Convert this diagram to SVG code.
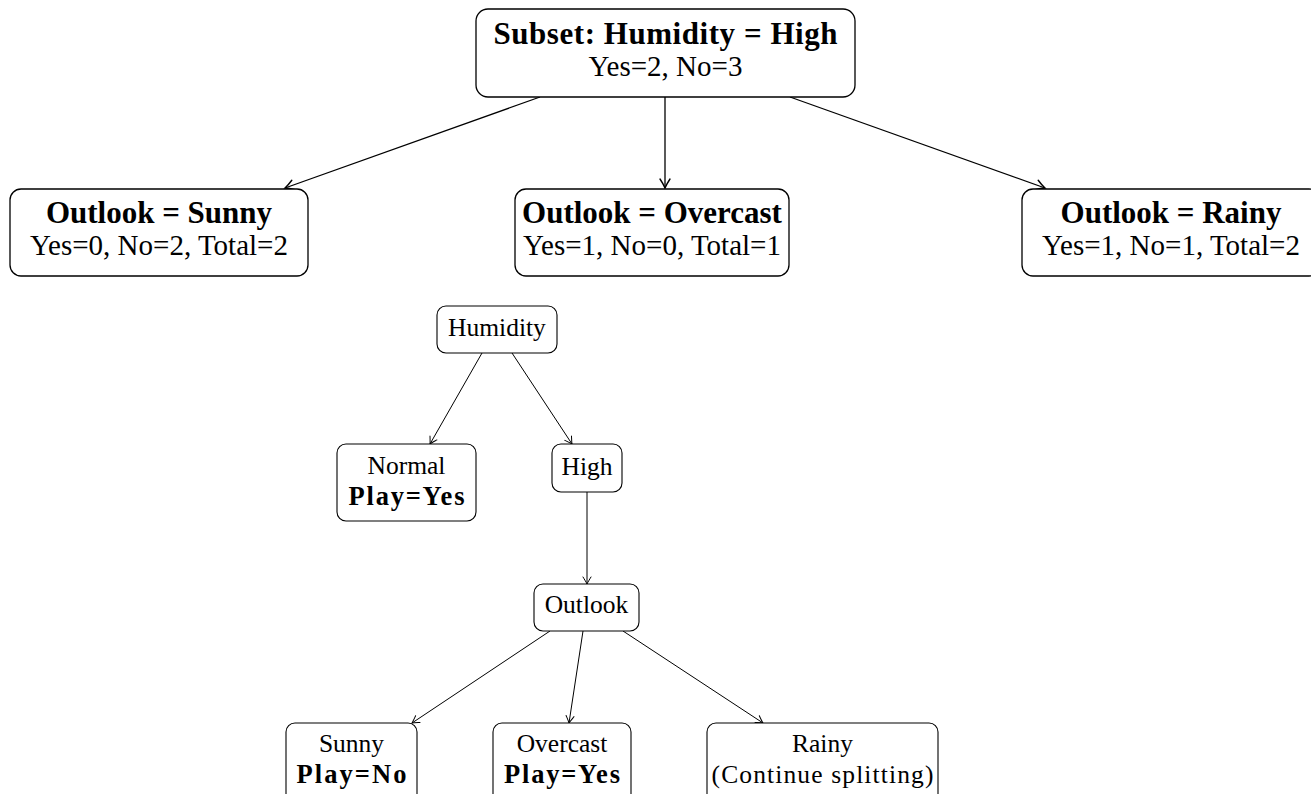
<svg xmlns="http://www.w3.org/2000/svg" width="1311" height="794" viewBox="0 0 1311 794">
<defs>
<style>
.box{fill:#fff;stroke:#000;stroke-width:1.3}
.sbox{fill:#fff;stroke:#000;stroke-width:1.1}
text{font-family:'Liberation Serif',serif;text-anchor:middle;fill:#000}
.big{font-size:29px}
.bigb{font-size:31px;font-weight:bold}
.sm{font-size:25.5px}
.smb{font-size:26.5px;font-weight:bold}
.e1{stroke:#000;stroke-width:1.3;fill:none}
.e2{stroke:#000;stroke-width:1;fill:none}
</style>
<marker id="a1" markerUnits="userSpaceOnUse" viewBox="-12 -7 14 14" markerWidth="14" markerHeight="14" refX="0" refY="0" orient="auto">
<path d="M-9,-5 C-6,-3 -2,-0.8 0,0 C-2,0.8 -6,3 -9,5" fill="none" stroke="#000" stroke-width="1.4" stroke-linecap="round"/>
</marker>
<marker id="a2" markerUnits="userSpaceOnUse" viewBox="-10 -6 12 12" markerWidth="12" markerHeight="12" refX="0" refY="0" orient="auto">
<path d="M-7,-4 C-4.5,-2.5 -1.5,-0.6 0,0 C-1.5,0.6 -4.5,2.5 -7,4" fill="none" stroke="#000" stroke-width="1" stroke-linecap="round"/>
</marker>
</defs>
<rect width="1311" height="794" fill="#fff"/>
<g id="connectors">
<line class="e1" x1="540" y1="97" x2="285" y2="188" marker-end="url(#a1)"/>
<line class="e1" x1="665" y1="97" x2="665" y2="188" marker-end="url(#a1)"/>
<line class="e1" x1="790" y1="97" x2="1045" y2="188" marker-end="url(#a1)"/>
<line class="e2" x1="482" y1="353" x2="430" y2="444" marker-end="url(#a2)"/>
<line class="e2" x1="512" y1="353" x2="572" y2="444" marker-end="url(#a2)"/>
<line class="e2" x1="587" y1="492" x2="587" y2="584" marker-end="url(#a2)"/>
<line class="e2" x1="550" y1="631" x2="412" y2="723" marker-end="url(#a2)"/>
<line class="e2" x1="583" y1="631" x2="569" y2="723" marker-end="url(#a2)"/>
<line class="e2" x1="623" y1="631" x2="763" y2="723" marker-end="url(#a2)"/>
</g>
<g id="root">
<rect class="box" x="476" y="9" width="379" height="88" rx="12"/>
<text class="bigb" x="665.5" y="44" textLength="344" lengthAdjust="spacing">Subset: Humidity = High</text>
<text class="big" x="665.5" y="76">Yes=2, No=3</text>
</g>
<g id="sunny-top">
<rect class="box" x="10" y="189" width="298" height="87" rx="11"/>
<text class="bigb" x="159" y="223">Outlook = Sunny</text>
<text class="big" x="159" y="255">Yes=0, No=2, Total=2</text>
</g>
<g id="overcast-top">
<rect class="box" x="515" y="189" width="274" height="87" rx="11"/>
<text class="bigb" x="652" y="223">Outlook = Overcast</text>
<text class="big" x="652" y="255">Yes=1, No=0, Total=1</text>
</g>
<g id="rainy-top">
<rect class="box" x="1022" y="189" width="298" height="87" rx="11"/>
<text class="bigb" x="1171" y="223">Outlook = Rainy</text>
<text class="big" x="1171" y="255">Yes=1, No=1, Total=2</text>
</g>
<g id="humidity">
<rect class="sbox" x="437" y="306" width="120" height="47" rx="9"/>
<text class="sm" x="497" y="336">Humidity</text>
</g>
<g id="normal">
<rect class="sbox" x="337" y="444" width="139" height="77" rx="9"/>
<text class="sm" x="406.5" y="474">Normal</text>
<text class="smb" x="406.5" y="505" textLength="116" lengthAdjust="spacing">Play=Yes</text>
</g>
<g id="high">
<rect class="sbox" x="552" y="444" width="70" height="48" rx="9"/>
<text class="sm" x="587" y="475">High</text>
</g>
<g id="outlook">
<rect class="sbox" x="534" y="584" width="105" height="47" rx="9"/>
<text class="sm" x="586.5" y="613">Outlook</text>
</g>
<g id="sunny">
<rect class="sbox" x="286" y="723" width="131" height="80" rx="9"/>
<text class="sm" x="351.5" y="752">Sunny</text>
<text class="smb" x="351.5" y="783" textLength="110" lengthAdjust="spacing">Play=No</text>
</g>
<g id="overcast">
<rect class="sbox" x="493" y="723" width="138" height="80" rx="9"/>
<text class="sm" x="562" y="752">Overcast</text>
<text class="smb" x="562" y="783" textLength="116" lengthAdjust="spacing">Play=Yes</text>
</g>
<g id="rainy">
<rect class="sbox" x="707" y="723" width="231" height="80" rx="9"/>
<text class="sm" x="822.5" y="752">Rainy</text>
<text class="sm" x="822.5" y="783" textLength="222" lengthAdjust="spacing">(Continue splitting)</text>
</g>
</svg>
